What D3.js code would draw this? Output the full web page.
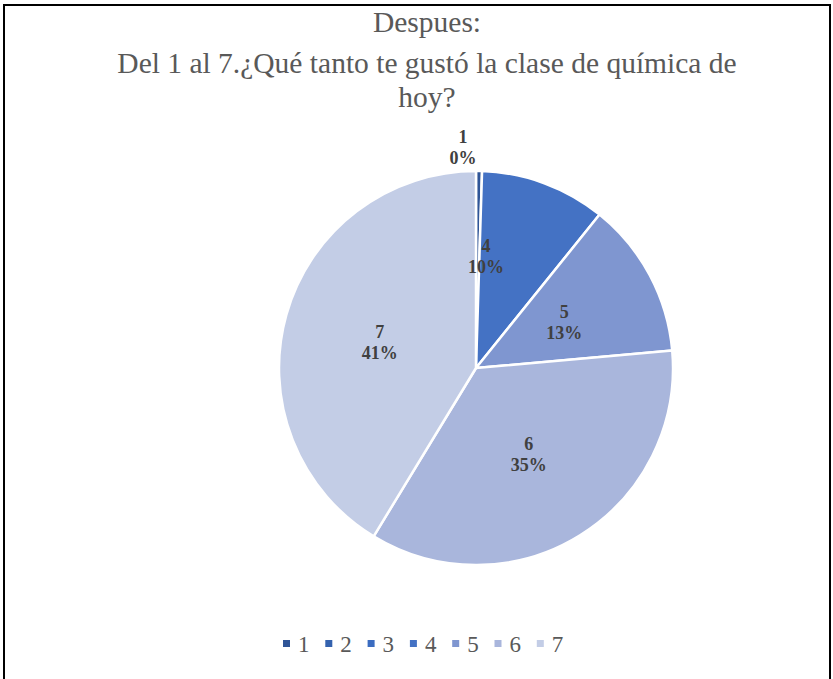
<!DOCTYPE html>
<html>
<head>
<meta charset="utf-8">
<script src="https://cdn.jsdelivr.net/npm/d3@7"></script>
<style>
  body { margin: 0; background: #fff; }
  svg { display: block; }
</style>
</head>
<body>
<svg id="chart" width="833" height="679"></svg>
<script>
// Data
const categories = ['1', '2', '3', '4', '5', '6', '7'];
const percents = [0.49, 0, 0, 10.3, 12.8, 35.1, 41.3];
const sliceColors = ['#2F5597', '#3462AE', '#3B6CC0', '#4472C4', '#7F96D0', '#A9B6DC', '#C3CDE6'];
const titleLines = ['Despues:', 'Del 1 al 7.¿Qué tanto te gustó la clase de química de', 'hoy?'];

const width = 833, height = 679;
const svg = d3.select('#chart');

// chart border
svg.append('rect')
  .attr('x', 4).attr('y', 5)
  .attr('width', 826).attr('height', 700)
  .attr('fill', '#fff')
  .attr('stroke', '#000')
  .attr('stroke-width', 2);

// Title
const titleY = [32, 73, 107];
svg.append('g')
  .selectAll('text')
  .data(titleLines)
  .enter()
  .append('text')
  .attr('x', 427)
  .attr('y', (d, i) => titleY[i])
  .attr('text-anchor', 'middle')
  .attr('font-family', '"Liberation Serif", "Times New Roman", serif')
  .attr('font-size', '29.5px')
  .attr('fill', '#595959')
  .text(d => d);

// Pie
const cx = 476, cy = 368, radius = 197;
const data = categories.map((c, i) => ({ cat: c, value: percents[i], color: sliceColors[i] }));

const pie = d3.pie()
  .sort(null)
  .value(d => d.value);

const arc = d3.arc().innerRadius(0).outerRadius(radius);
const labelArc = d3.arc().innerRadius(100).outerRadius(100);

const g = svg.append('g').attr('transform', `translate(${cx},${cy})`);
const arcs = pie(data).filter(d => d.data.value > 0);

g.selectAll('path')
  .data(arcs)
  .enter()
  .append('path')
  .attr('d', arc)
  .attr('fill', d => d.data.color)
  .attr('stroke', '#fff')
  .attr('stroke-width', 2.5)
  .attr('stroke-linejoin', 'round');

// Label placement: centroid, with nudges where Excel moved labels
const nudges = { '1': [-13, -222], '4': [10, -113] };
const total = d3.sum(percents);

const labels = g.selectAll('.lbl')
  .data(arcs)
  .enter()
  .append('text')
  .attr('class', 'lbl')
  .attr('transform', d => {
    const p = nudges[d.data.cat] || labelArc.centroid(d);
    return `translate(${p[0]},${p[1]})`;
  })
  .attr('text-anchor', 'middle')
  .attr('font-family', '"Liberation Serif", "Times New Roman", serif')
  .attr('font-size', '18px')
  .attr('font-weight', 'bold')
  .attr('fill', '#404040');

labels.append('tspan')
  .attr('x', 0)
  .attr('dy', '-0.15em')
  .text(d => d.data.cat);
labels.append('tspan')
  .attr('x', 0)
  .attr('dy', '1.15em')
  .text(d => Math.round(d.data.value / total * 100) + '%');

// Legend
const legendStep = 42.3;
const legendX0 = 283, legendY = 644;
const legend = svg.append('g')
  .selectAll('g')
  .data(data)
  .enter()
  .append('g')
  .attr('transform', (d, i) => `translate(${legendX0 + i * legendStep},${legendY})`);

legend.append('rect')
  .attr('x', 0).attr('y', -4)
  .attr('width', 7).attr('height', 7)
  .attr('fill', d => d.color);

legend.append('text')
  .attr('x', 15)
  .attr('y', 8)
  .attr('font-family', '"Liberation Serif", "Times New Roman", serif')
  .attr('font-size', '23px')
  .attr('fill', '#595959')
  .text(d => d.cat);
</script>
</body>
</html>
